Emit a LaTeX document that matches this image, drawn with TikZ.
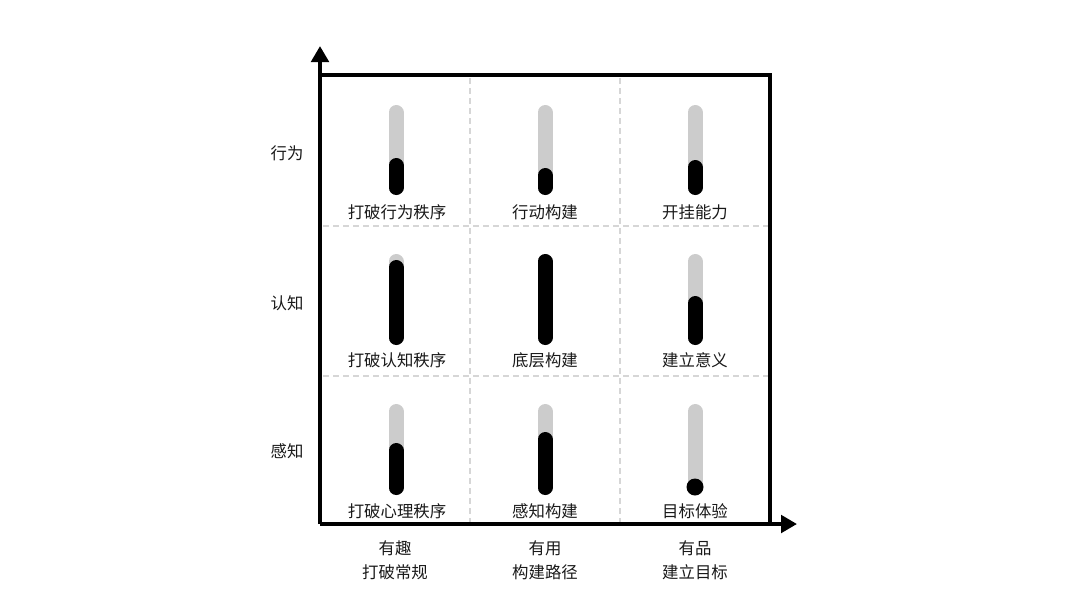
\documentclass[tikz,border=0pt]{standalone}
\usepackage{fontspec}
\setmainfont{Noto Sans CJK SC}
\usetikzlibrary{arrows.meta}
\begin{document}
\begin{tikzpicture}[x=0.75pt,y=-0.75pt,
  axis/.style={line width=3pt,-{Triangle[width=13pt,length=12pt]}},
  frame/.style={line width=3pt},
  grid/.style={draw=black!16,line width=1.5pt,dash pattern=on 4.5pt off 3pt},
  track/.style={draw=black!20,line width=11.25pt,line cap=round},
  level/.style={draw=black,line width=11.25pt,line cap=round},
  lbl/.style={font=\fontsize{12.3pt}{15pt}\selectfont,text=black!90,inner sep=0pt},
  axlbl/.style={font=\fontsize{12.3pt}{18pt}\selectfont,text=black!90,inner sep=0pt,align=center}]
\useasboundingbox (0,0) rectangle (1080,608);
% grid
\draw[grid] (470,78) -- (470,522);
\draw[grid] (620,78) -- (620,522);
\draw[grid] (323,226) -- (768,226);
\draw[grid] (323,376) -- (768,376);
% frame
\coordinate (O) at (320,524);
\coordinate (ytip) at (320,46);
\coordinate (xtip) at (797,524);
\draw[frame] (320,75) -- (770,75) -- (770,524);
\draw[axis] (O) -- (ytip);
\draw[axis] (O) -- (xtip);
% row 1
\foreach \x/\b in {396/158,545/168,695/160}{
  \draw[track] (\x,112.5) -- (\x,187.5);
  \draw[level] (\x,\b+7.5) -- (\x,187.5);
}
% row 2
\foreach \x/\b in {396/260,545/254,695/296}{
  \draw[track] (\x,261.5) -- (\x,337.5);
  \draw[level] (\x,\b+7.5) -- (\x,337.5);
}
% row 3
\foreach \x/\b in {396/443,545/432}{
  \draw[track] (\x,411.5) -- (\x,487.5);
  \draw[level] (\x,\b+7.5) -- (\x,487.5);
}
\draw[track] (695,411.5) -- (695,487.5);
\fill[black] (695,487) circle [radius=8.5];
% labels
\node[lbl] (a1) at (397,212) {打破行为秩序};
\node[lbl] (a2) at (545,212) {行动构建};
\node[lbl] (a3) at (695,212) {开挂能力};
\node[lbl] (b1) at (397,360) {打破认知秩序};
\node[lbl] (b2) at (545,360) {底层构建};
\node[lbl] (b3) at (695,360) {建立意义};
\node[lbl] (c1) at (397,511) {打破心理秩序};
\node[lbl] (c2) at (545,511) {感知构建};
\node[lbl] (c3) at (695,511) {目标体验};
% axis labels
\node[lbl] (r1) at (287,153) {行为};
\node[lbl] (r2) at (287,303) {认知};
\node[lbl] (r3) at (287,451) {感知};
\node[axlbl] (k1) at (395,560) {有趣\\打破常规};
\node[axlbl] (k2) at (545,560) {有用\\构建路径};
\node[axlbl] (k3) at (695,560) {有品\\建立目标};
\end{tikzpicture}
\end{document}
